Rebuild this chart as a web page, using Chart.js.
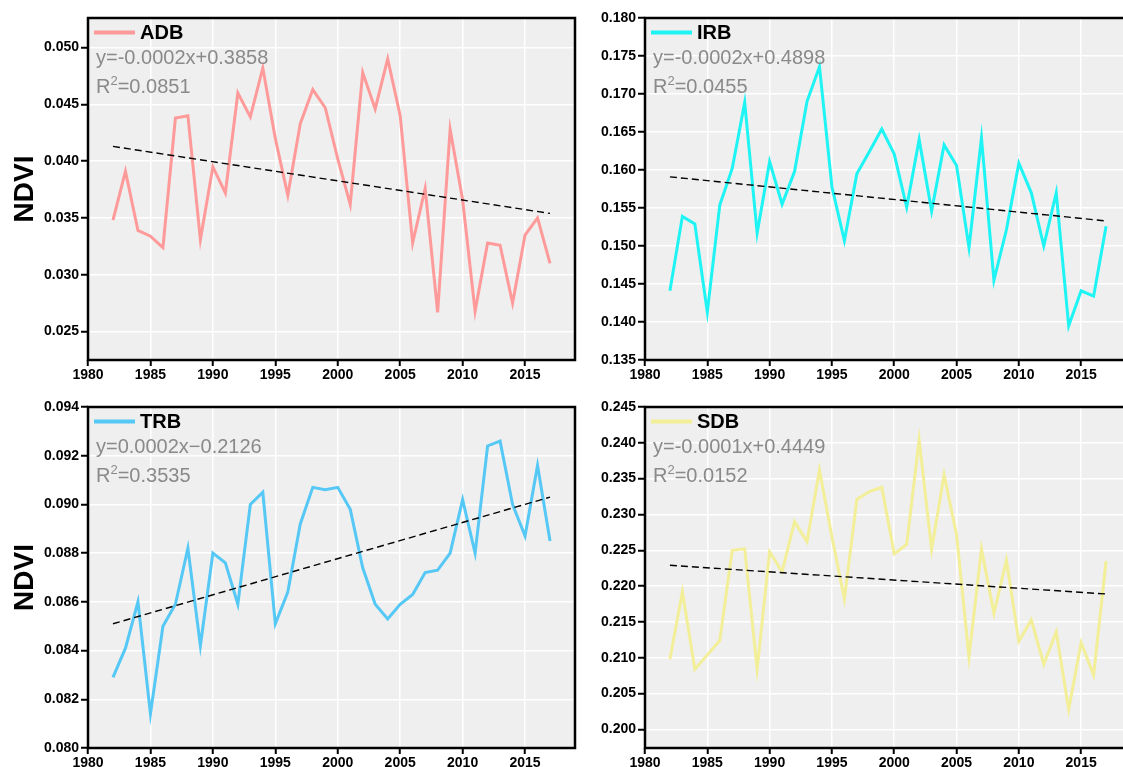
<!DOCTYPE html>
<html>
<head>
<meta charset="utf-8">
<script src="https://cdn.jsdelivr.net/npm/chart.js@4"></script>
<style>
  html, body { margin: 0; padding: 0; background: #fff; }
  body { width: 1123px; height: 767px; overflow: hidden; position: relative; }
  canvas { position: absolute; }
</style>
</head>
<body>
<canvas id="adbChart" width="600" height="390" style="left:0;top:0"></canvas>
<canvas id="irbChart" width="600" height="390" style="left:560px;top:0"></canvas>
<canvas id="trbChart" width="600" height="388" style="left:0;top:390px"></canvas>
<canvas id="sdbChart" width="600" height="388" style="left:560px;top:390px"></canvas>
<script>
// years on the x axis
const years = [1982, 1983, 1984, 1985, 1986, 1987, 1988, 1989, 1990, 1991, 1992, 1993,
  1994, 1995, 1996, 1997, 1998, 1999, 2000, 2001, 2002, 2003, 2004, 2005,
  2006, 2007, 2008, 2009, 2010, 2011, 2012, 2013, 2014, 2015, 2016, 2017];

// NDVI per basin
const adbValues = [0.0348, 0.0391, 0.0339, 0.0334, 0.0324, 0.0438, 0.0440, 0.0331, 0.0395, 0.0372, 0.0460, 0.0439,
  0.0482, 0.0420, 0.0370, 0.0433, 0.0463, 0.0447, 0.0402, 0.0362, 0.0478, 0.0446, 0.0490, 0.0440,
  0.0328, 0.0376, 0.0267, 0.0428, 0.0366, 0.0268, 0.0328, 0.0326, 0.0275, 0.0335, 0.0350, 0.0310];
const irbValues = [0.1441, 0.1539, 0.1529, 0.1413, 0.1554, 0.1602, 0.1689, 0.1517, 0.1611, 0.1555, 0.1598, 0.1690,
  0.1736, 0.1578, 0.1507, 0.1595, 0.1624, 0.1654, 0.1621, 0.1551, 0.1640, 0.1546, 0.1633, 0.1606,
  0.1498, 0.1642, 0.1455, 0.1521, 0.1609, 0.1570, 0.1500, 0.1570, 0.1395, 0.1441, 0.1434, 0.1526];
const trbValues = [0.0829, 0.0841, 0.0860, 0.0814, 0.0850, 0.0859, 0.0882, 0.0842, 0.0880, 0.0876, 0.0859, 0.0900,
  0.0905, 0.0851, 0.0864, 0.0892, 0.0907, 0.0906, 0.0907, 0.0898, 0.0874, 0.0859, 0.0853, 0.0859,
  0.0863, 0.0872, 0.0873, 0.0880, 0.0902, 0.0880, 0.0924, 0.0926, 0.0900, 0.0887, 0.0916, 0.0885];
const sdbValues = [0.2098, 0.2192, 0.2084, 0.2104, 0.2124, 0.2250, 0.2252, 0.2084, 0.2248, 0.2220, 0.2290, 0.2262,
  0.2362, 0.2269, 0.2182, 0.2321, 0.2332, 0.2338, 0.2245, 0.2258, 0.2404, 0.2251, 0.2355, 0.2272,
  0.2101, 0.2252, 0.2162, 0.2236, 0.2123, 0.2153, 0.2091, 0.2136, 0.2028, 0.2121, 0.2076, 0.2235];

// linear trend end points (first and last year)
const trendYears = [1982, 2017];
const adbTrend = [0.0413, 0.0354];
const irbTrend = [0.1591, 0.1533];
const trbTrend = [0.0851, 0.0903];
const sdbTrend = [0.2229, 0.2189];

// fit text
const adbEquation = ['y=-0.0002x+0.3858', '=0.0851'];
const irbEquation = ['y=-0.0002x+0.4898', '=0.0455'];
const trbEquation = ['y=0.0002x\u22120.2126', '=0.3535'];
const sdbEquation = ['y=-0.0001x+0.4449', '=0.0152'];

// tick labels
const xTicks = [1980, 1985, 1990, 1995, 2000, 2005, 2010, 2015];
const adbTicks = [0.025, 0.030, 0.035, 0.040, 0.045, 0.050];
const irbTicks = [0.135, 0.140, 0.145, 0.150, 0.155, 0.160, 0.165, 0.170, 0.175, 0.180];
const trbTicks = [0.080, 0.082, 0.084, 0.086, 0.088, 0.090, 0.092, 0.094];
const sdbTicks = [0.200, 0.205, 0.210, 0.215, 0.220, 0.225, 0.230, 0.235, 0.240, 0.245];

const FONT = 'Arial, "Liberation Sans", sans-serif';

// background, frame, legend and equation text
const panelDecor = {
  id: 'panelDecor',
  beforeDraw(chart) {
    const { ctx, chartArea: a } = chart;
    ctx.save();
    ctx.fillStyle = '#efefef';
    ctx.fillRect(a.left, a.top, a.right - a.left, a.bottom - a.top);
    ctx.restore();
  },
  afterDraw(chart, args, opts) {
    const { ctx, chartArea: a } = chart;
    ctx.save();
    ctx.strokeStyle = '#000';
    ctx.lineWidth = 2.5;
    ctx.strokeRect(a.left, a.top, a.right - a.left, a.bottom - a.top);

    // legend
    const ly = a.top + 14.5;
    ctx.strokeStyle = opts.color;
    ctx.lineWidth = 4;
    ctx.beginPath();
    ctx.moveTo(a.left + 6, ly);
    ctx.lineTo(a.left + 47, ly);
    ctx.stroke();
    ctx.fillStyle = '#000';
    ctx.textBaseline = 'middle';
    ctx.font = 'bold 20px ' + FONT;
    ctx.fillText(opts.name, a.left + 52, ly + 1);

    // equation and R2
    ctx.fillStyle = '#8a8a8a';
    ctx.font = '20px ' + FONT;
    ctx.fillText(opts.eq[0], a.left + 8, a.top + 40);
    const ry = a.top + 69;
    ctx.fillText('R', a.left + 8, ry);
    const rw = ctx.measureText('R').width;
    ctx.font = '13px ' + FONT;
    ctx.fillText('2', a.left + 8 + rw, ry - 6);
    const sw = ctx.measureText('2').width;
    ctx.font = '20px ' + FONT;
    ctx.fillText(opts.eq[1], a.left + 8 + rw + sw, ry);
    ctx.restore();
  }
};

function makePanel(canvasId, p) {
  const ctx = document.getElementById(canvasId).getContext('2d');
  return new Chart(ctx, {
    type: 'line',
    data: {
      datasets: [
        {
          data: trendYears.map((x, i) => ({ x: x, y: p.trend[i] })),
          borderColor: '#000',
          borderWidth: 1.4,
          borderDash: [7, 4],
          pointRadius: 0,
          fill: false
        },
        {
          data: years.map((x, i) => ({ x: x, y: p.values[i] })),
          borderColor: p.color,
          borderWidth: 3,
          pointRadius: 0,
          tension: 0,
          fill: false
        }
      ]
    },
    options: {
      responsive: false,
      animation: false,
      devicePixelRatio: 1,
      layout: { padding: { left: 0, top: p.padTop, right: p.padRight, bottom: 0 } },
      plugins: {
        legend: { display: false },
        tooltip: { enabled: false },
        panelDecor: { name: p.name, color: p.color, eq: p.eq }
      },
      scales: {
        x: {
          type: 'linear',
          min: 1980,
          max: 2019,
          afterBuildTicks: (scale) => { scale.ticks = xTicks.map(v => ({ value: v })); },
          afterFit: (scale) => { scale.height = 30; },
          grid: { color: '#ffffff', lineWidth: 1.5, tickColor: '#000', tickLength: 6, tickWidth: 2 },
          border: { display: false },
          ticks: {
            color: '#000',
            padding: 1,
            maxRotation: 0,
            font: { family: FONT, size: 14, weight: 'bold' },
            callback: (v) => String(v)
          }
        },
        y: {
          min: p.yMin,
          max: p.yMax,
          afterBuildTicks: (scale) => { scale.ticks = p.ticks.map(v => ({ value: v })); },
          afterFit: (scale) => { scale.width = p.axisWidth; },
          grid: { color: '#ffffff', lineWidth: 1.5, tickColor: '#000', tickLength: 7, tickWidth: 2 },
          border: { display: false },
          title: {
            display: p.showTitle,
            text: 'NDVI',
            color: '#000',
            padding: { top: 8, bottom: 0 },
            font: { family: FONT, size: 28, weight: 'bold' }
          },
          ticks: {
            color: '#000',
            padding: 2,
            font: { family: FONT, size: 14, weight: 'bold' },
            callback: (v) => v.toFixed(3)
          }
        }
      }
    },
    plugins: [panelDecor]
  });
}

makePanel('adbChart', {
  name: 'ADB', color: '#ff9a9a', values: adbValues, trend: adbTrend, eq: adbEquation,
  yMin: 0.0225, yMax: 0.0526, ticks: adbTicks, axisWidth: 88, padTop: 18, padRight: 25, showTitle: true
});
makePanel('irbChart', {
  name: 'IRB', color: '#1ff4f4', values: irbValues, trend: irbTrend, eq: irbEquation,
  yMin: 0.135, yMax: 0.180, ticks: irbTicks, axisWidth: 85, padTop: 18, padRight: 29, showTitle: false
});
makePanel('trbChart', {
  name: 'TRB', color: '#55c8f5', values: trbValues, trend: trbTrend, eq: trbEquation,
  yMin: 0.080, yMax: 0.094, ticks: trbTicks, axisWidth: 88, padTop: 17, padRight: 25, showTitle: true
});
makePanel('sdbChart', {
  name: 'SDB', color: '#f3ee98', values: sdbValues, trend: sdbTrend, eq: sdbEquation,
  yMin: 0.1974, yMax: 0.245, ticks: sdbTicks, axisWidth: 85, padTop: 17, padRight: 29, showTitle: false
});
</script>
</body>
</html>
